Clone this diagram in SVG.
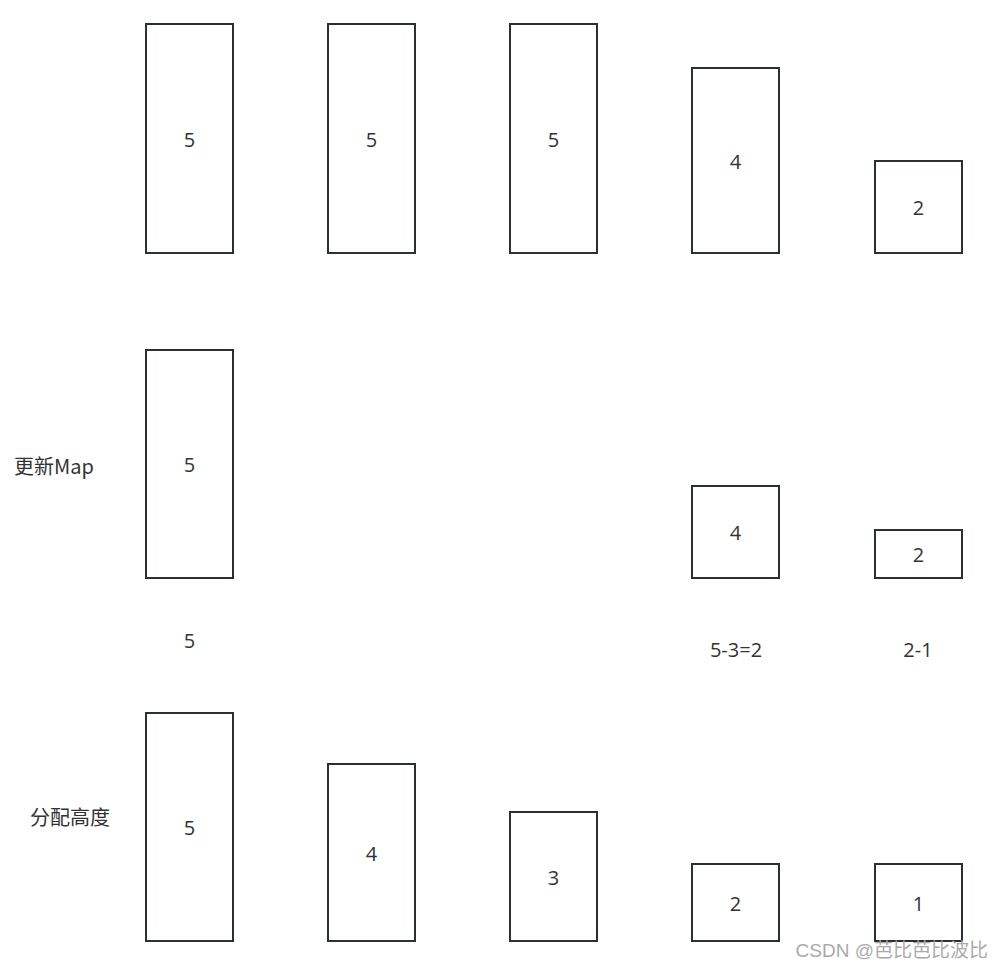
<svg xmlns="http://www.w3.org/2000/svg" width="1003" height="970" viewBox="0 0 1003 970">
<style>
.b{fill:#fff;stroke:#2b3036;stroke-width:2}
.t{font-family:"Open Sans","Noto Sans CJK SC",sans-serif;font-size:20px;fill:#333;text-anchor:middle;dominant-baseline:central}
.l{font-family:"Noto Sans CJK SC",sans-serif;font-size:20px;fill:#333;text-anchor:middle;dominant-baseline:central}
.w{font-family:"Liberation Sans","Noto Sans CJK SC",sans-serif;font-size:19px;fill:#aaa;text-anchor:end;dominant-baseline:central}
</style>
<rect width="1003" height="970" fill="#fff"/>
<g id="r1c1"><rect class="b" x="146" y="24" width="87" height="229"/><text class="t" x="189.5" y="139">5</text></g>
<g id="r1c2"><rect class="b" x="328" y="24" width="87" height="229"/><text class="t" x="371.5" y="139">5</text></g>
<g id="r1c3"><rect class="b" x="510" y="24" width="87" height="229"/><text class="t" x="553.5" y="139">5</text></g>
<g id="r1c4"><rect class="b" x="692" y="68" width="87" height="185"/><text class="t" x="735.5" y="161">4</text></g>
<g id="r1c5"><rect class="b" x="875" y="161" width="87" height="92"/><text class="t" x="918.5" y="207">2</text></g>
<g id="lbl-map"><text class="l" x="54" y="465">更新Map</text></g>
<g id="r2c1"><rect class="b" x="146" y="350" width="87" height="228"/><text class="t" x="189.5" y="464">5</text></g>
<g id="r2c4"><rect class="b" x="692" y="486" width="87" height="92"/><text class="t" x="735.5" y="532">4</text></g>
<g id="r2c5"><rect class="b" x="875" y="530" width="87" height="48"/><text class="t" x="918.5" y="554">2</text></g>
<g id="n-5"><text class="t" x="189.5" y="640">5</text></g>
<g id="n-532"><text class="t" x="736" y="649">5-3=2</text></g>
<g id="n-21"><text class="t" x="918" y="649">2-1</text></g>
<g id="lbl-height"><text class="l" x="70" y="816">分配高度</text></g>
<g id="r3c1"><rect class="b" x="146" y="713" width="87" height="228"/><text class="t" x="189.5" y="827">5</text></g>
<g id="r3c2"><rect class="b" x="328" y="764" width="87" height="177"/><text class="t" x="371.5" y="853">4</text></g>
<g id="r3c3"><rect class="b" x="510" y="812" width="87" height="129"/><text class="t" x="553.5" y="877">3</text></g>
<g id="r3c4"><rect class="b" x="692" y="864" width="87" height="77"/><text class="t" x="735.5" y="903">2</text></g>
<g id="r3c5"><rect class="b" x="875" y="864" width="87" height="77"/><text class="t" x="918.5" y="903">1</text></g>
<g id="connectors"/>
<text class="w" x="988" y="950">CSDN @芭比芭比波比</text>
</svg>
